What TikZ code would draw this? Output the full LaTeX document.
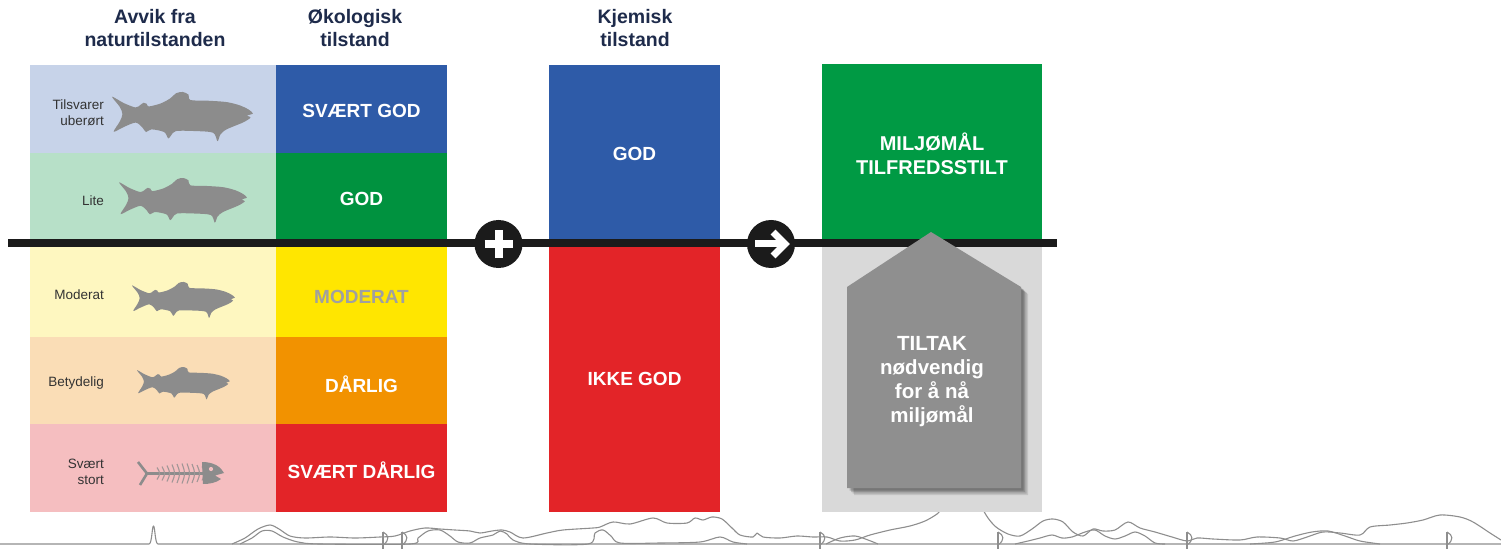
\documentclass[tikz,border=0pt]{standalone}
\usepackage{fontspec}
\setmainfont{Liberation Sans}
\definecolor{rowA}{HTML}{C7D3E9}
\definecolor{rowB}{HTML}{B7E0C8}
\definecolor{rowC}{HTML}{FEF7C0}
\definecolor{rowD}{HTML}{FADDB6}
\definecolor{rowE}{HTML}{F5BEC0}
\definecolor{cblue}{HTML}{2E5BA8}
\definecolor{cgreen}{HTML}{00923F}
\definecolor{cyellow}{HTML}{FFE600}
\definecolor{corange}{HTML}{F29200}
\definecolor{cred}{HTML}{E32428}
\definecolor{goalgreen}{HTML}{009A44}
\definecolor{lightgrey}{HTML}{D9D9D9}
\definecolor{housegrey}{HTML}{8F8F8F}
\definecolor{fishcol}{HTML}{8C8C8C}
\definecolor{headcol}{HTML}{1E2B4B}
\definecolor{labcol}{HTML}{333333}
\definecolor{axiscol}{HTML}{1B1B1B}
\definecolor{landcol}{HTML}{8E8E8E}
\definecolor{modtext}{HTML}{A0A0A0}
\begin{document}
\begin{tikzpicture}[x=1bp,y=-1bp,
  cell/.style n args={3}{fill=#1, draw=none, minimum width=#2, minimum height=#3,
    anchor=north west, inner sep=0pt, outer sep=0pt},
  head/.style={font=\bfseries\fontsize{19.5bp}{23bp}\selectfont, text=headcol, align=center, inner sep=0pt},
  big/.style={font=\bfseries\fontsize{19bp}{23bp}\selectfont, text=white, align=center, inner sep=0pt},
  lbl/.style={font=\fontsize{13.5bp}{16.5bp}\selectfont, text=labcol, align=right, anchor=east, inner sep=0pt},
  land/.style={draw=landcol, line width=1.1bp, line join=round},
  axis/.style={draw=axiscol, line width=8bp},
  disc/.style={circle, fill=axiscol, minimum size=48bp, inner sep=0pt},
  glyph/.style={draw=white, line width=8bp},
  trout/.pic={\fill[fishcol] plot[smooth cycle, tension=0.5] coordinates {
      (5,-52) (40,-33) (75,-20) (90,-28) (99,-34) (108,-31) (114,-23) (150,-32)
      (178,-47) (195,-62) (215,-66) (232,-58) (238,-42) (290,-40) (345,-36)
      (385,-26) (410,-14) (423,-2) (406,4) (416,10) (395,24) (345,45) (327,60)
      (318,80) (305,55) (250,50) (195,50) (181,62) (172,72) (160,53) (122,45)
      (106,53) (95,39) (75,25) (40,38) (10,52) (28,22) (36,0) (28,-22)};},
  boat/.pic={\draw[land] (0,-11) -- (0,6);
      \draw[land] (0,-11) .. controls (6,-8) and (7,-3) .. (0,2);}
]
\useasboundingbox (0,0) rectangle (1501,551);

% shoreline and hills along the bottom edge
\draw[land] (0,544) -- (149,544) .. controls (152,544) and (152,526) .. (153.5,526)
  .. controls (155,526) and (155,544) .. (158,544) -- (1501,544);
\draw[land] plot[smooth, tension=0.5] coordinates {
  (232,544) (245,538) (258,529) (270,525) (279,529) (290,536) (305,538) (330,537)
  (355,538) (380,537) (395,536) (410,531) (425,528) (440,529) (455,530) (470,531)
  (480,533) (492,531) (502,530) (510,532) (523,538) (547,533) (563,530) (593,528)
  (600,527) (613,522) (630,524) (653,518) (667,523) (687,523) (695,518) (703,520)
  (712,517) (722,519) (732,528) (740,535) (753,537) (757,533) (763,537) (780,538)
  (797,536) (813,537) (827,537) (840,541) (855,540) (870,535) (890,530) (910,526)
  (925,521) (937,514) (942,508)};
\draw[land] plot[smooth, tension=0.5] coordinates {
  (240,544) (252,538) (262,531) (272,531) (283,537) (298,542) (320,544) (410,544)
  (418,538) (428,531) (440,530) (450,536) (458,542) (470,543) (480,538) (493,535)
  (500,531) (507,534) (513,540) (530,544) (588,544) (595,533) (603,530) (611,536)
  (620,543) (660,543) (700,542) (720,537) (733,542) (747,544)};
\draw[land] plot[smooth, tension=0.5] coordinates {
  (826,544) (840,538) (855,536) (868,540) (878,544)};
\draw[land] plot[smooth, tension=0.5] coordinates {
  (982,508) (988,518) (996,527) (1008,534) (1020,536) (1032,529) (1043,521)
  (1053,519) (1063,522) (1073,532) (1083,536) (1093,529) (1103,531) (1115,530)
  (1128,522) (1140,528) (1155,532) (1172,537) (1187,541) (1197,538) (1213,539)
  (1240,540) (1257,537) (1280,538) (1293,541) (1307,537) (1323,532) (1340,533)
  (1360,535) (1370,527) (1390,525) (1407,523) (1423,520) (1440,515) (1460,517)
  (1473,522) (1490,533) (1501,540)};
\draw[land] plot[smooth, tension=0.5] coordinates {
  (1015,544) (1028,541) (1040,538) (1052,535) (1062,538) (1072,537) (1085,532)
  (1095,530) (1105,536) (1115,539) (1125,536) (1135,532) (1145,536) (1155,543)
  (1165,544)};
\draw[land] plot[smooth, tension=0.5] coordinates {
  (1250,544) (1275,542) (1295,536) (1312,532) (1328,531) (1345,536) (1360,541)
  (1380,544)};
\foreach \bx in {383,402,820,998,1187,1447}
  \pic at (\bx,543) {boat};

% deviation from natural state
\node[cell={rowA}{246bp}{88bp}] (devA) at (30,65) {};
\node[cell={rowB}{246bp}{90bp}] (devB) at (30,153) {};
\node[cell={rowC}{246bp}{94bp}] (devC) at (30,243) {};
\node[cell={rowD}{246bp}{87bp}] (devD) at (30,337) {};
\node[cell={rowE}{246bp}{88bp}] (devE) at (30,424) {};

% ecological status
\node[cell={cblue}{171bp}{88bp}] (ecoA) at (276,65) {};
\node[cell={cgreen}{171bp}{90bp}] (ecoB) at (276,153) {};
\node[cell={cyellow}{171bp}{94bp}] (ecoC) at (276,243) {};
\node[cell={corange}{171bp}{87bp}] (ecoD) at (276,337) {};
\node[cell={cred}{171bp}{88bp}] (ecoE) at (276,424) {};

% chemical status
\node[cell={cblue}{171bp}{178bp}] (chemA) at (549,65) {};
\node[cell={cred}{171bp}{269bp}] (chemB) at (549,243) {};

% outcome
\node[cell={goalgreen}{220bp}{179bp}] (goal) at (822,64) {};
\node[cell={lightgrey}{220bp}{269bp}] (measbg) at (822,243) {};

% class boundary line
\coordinate (lineL) at (8,243.5);
\coordinate (lineR) at (1057,243.5);
\draw[axis] (lineL) -- (lineR);

% plus and arrow signs
\node[disc] (plus) at (498.5,244) {};
\draw[glyph] ([xshift=-14bp]plus.center) -- ([xshift=14bp]plus.center);
\draw[glyph] ([yshift=-14bp]plus.center) -- ([yshift=14bp]plus.center);
\node[disc] (arrow) at (771,244) {};
\draw[glyph, line width=7bp] ([xshift=-16bp]arrow.center) -- ([xshift=12bp]arrow.center);
\draw[glyph, line width=7bp, line join=miter]
  ([xshift=2bp,yshift=12bp]arrow.center) -- ([xshift=14bp]arrow.center)
  -- ([xshift=2bp,yshift=-12bp]arrow.center);

% measures house with soft shadow
\foreach \d/\o in {7/0.10,5.5/0.12,4/0.15,2.5/0.18}
  \fill[black, opacity=\o, shift={(\d,\d)}]
    (847,287) -- (931,232) -- (1021,287) -- (1021,488) -- (847,488) -- cycle;
\fill[housegrey] (847,287) -- (931,232) -- (1021,287) -- (1021,488) -- (847,488) -- cycle;

% fish
\pic[scale=0.337] at (110.3,114.2) {trout};
\pic[scale=0.306] at (117.5,198.2) {trout};
\pic[scale=0.246] at (130.8,298.2) {trout};
\pic[scale=0.222] at (135.9,381.7) {trout};

% fish skeleton
\draw[fishcol, line width=2.6bp, line join=round] (138,462) -- (147,473.5) -- (140,485);
\draw[fishcol, line width=2.4bp] (145,473.5) -- (208,473.5);
\foreach \rx/\rh in {157/6,162/7,167/8,172/9,177/9.5,182/10,187/10,192/9.5,197/8.5,202/7}
  \draw[fishcol!80!rowE, line width=1.1bp]
    (\rx,473.5-\rh) .. controls (\rx+3.5,473.5) .. (\rx,473.5+\rh);
\fill[fishcol] (202,462) .. controls (214,462) and (221,467) .. (224,473)
  -- (215,475.5) -- (221,479) .. controls (216,483) and (209,484) .. (203,484) -- cycle;
\fill[rowE] (211,469) circle (2.1);

% headings
\node[head] (hdev) at (155,28.5) {Avvik fra\\naturtilstanden};
\node[head] (heco) at (355,28.5) {Økologisk\\tilstand};
\node[head] (hchem) at (635,28.5) {Kjemisk\\tilstand};

% row labels
\node[lbl] (ldevA) at (104,112.5) {Tilsvarer\\uberørt};
\node[lbl] (ldevB) at (104,201) {Lite};
\node[lbl] (ldevC) at (104,295) {Moderat};
\node[lbl] (ldevD) at (104,383) {Betydelig};
\node[lbl] (ldevE) at (104,472) {Svært\\stort};

% status texts
\node[big] (tecoA) at (361.5,111) {SVÆRT GOD};
\node[big] (tecoB) at (361.5,199) {GOD};
\node[big, text=modtext] (tecoC) at (361.5,297) {MODERAT};
\node[big] (tecoD) at (361.5,384) {DÅRLIG};
\node[big] (tecoE) at (361.5,470) {SVÆRT DÅRLIG};
\node[big] (tchemA) at (634.5,154) {GOD};
\node[big] (tchemB) at (634.5,379) {IKKE GOD};
\node[big, font=\bfseries\fontsize{20bp}{24bp}\selectfont] (tgoal) at (932,154)
  {MILJØMÅL\\TILFREDSSTILT};
\node[big, font=\bfseries\fontsize{20.5bp}{24bp}\selectfont] (tmeas) at (932,382)
  {TILTAK\\nødvendig\\for å nå\\miljømål};
\end{tikzpicture}
\end{document}
